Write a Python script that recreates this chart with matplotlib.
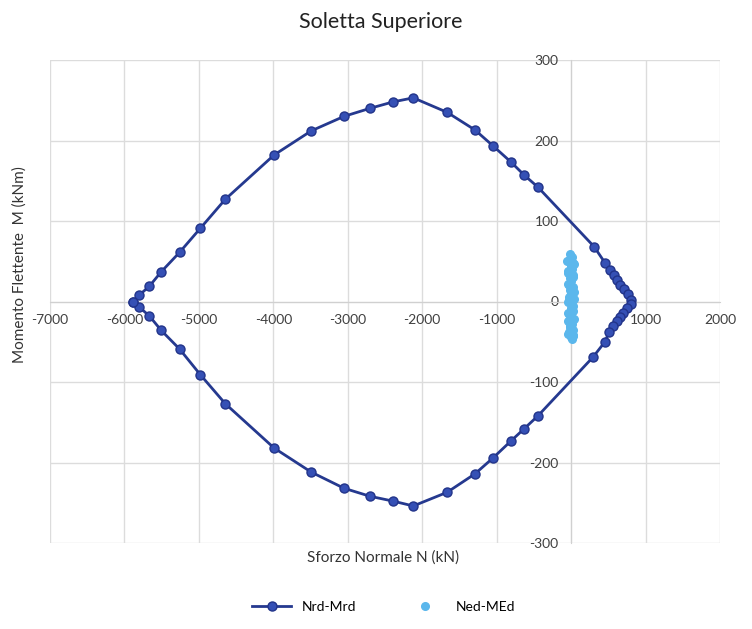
import matplotlib.pyplot as plt

plt.rcParams['font.family'] = ['Lato', 'DejaVu Sans']
plt.rcParams['axes.unicode_minus'] = False

# Nrd-Mrd domain, upper branch (left tip -> right tip)
n_up = [-5880, -5800, -5665, -5505, -5260, -4980, -4645, -3990, -3490, -3050,
        -2700, -2390, -2120, -1665, -1290, -1045, -805, -630, -445,
        310, 455, 525, 570, 615, 660, 710, 760, 810]
m_up = [0, 8, 19, 37, 61, 91, 127, 182, 212, 230,
        240, 248, 253, 235, 213, 193, 173, 157, 142,
        68, 48, 39, 33, 27, 21, 16, 9, 2]

# lower branch (right tip -> left tip)
n_low = [800, 755, 700, 655, 615, 560, 510, 455, 295,
         -445, -630, -805, -1045, -1290, -1665, -2120, -2390, -2700,
         -3050, -3490, -3990, -4645, -4980, -5260, -5505, -5665, -5800, -5880]
m_low = [-3, -8, -14, -19, -24, -31, -38, -50, -69,
         -142, -158, -173, -194, -214, -237, -254, -248, -242,
         -232, -212, -182, -127, -91, -59, -36, -18, -7, 0]

# Ned-MEd design actions
n_ed = [-20, 10, -35, 25, -5, 15, -40, 30, -15, 5, -25, 20, -10, 0, -30,
        35, -45, 12, -8, 28, -22, 8, -38, 18, -12, 3, -28, 22, -3, 14,
        -50, 40, -42, 32, -48, 38, -30, 26, -44, 36, -18, 30, -40, 24]
m_ed = [59, 55, 52, 48, 44, 40, 36, 33, 29, 25, 21, 18, 14, 10, 6,
        3, 0, -4, -8, -12, -16, -20, -24, -28, -32, -35, -38, -41, -44, -46,
        50, 46, 38, 30, 22, 12, 2, -6, -14, -22, -30, -36, -40, -43]

n_rd = n_up + n_low
m_rd = m_up + m_low

fig = plt.figure(figsize=(7.52, 6.29), dpi=100)
ax = fig.add_axes([50/752, 1-543/629, 670/752, 483/629])

ax.plot(n_rd, m_rd, color='#25398F', lw=2.0, marker='o', ms=6.5,
        mfc='#3550B5', mec='#22348A', mew=1.0, label='Nrd-Mrd', zorder=3)
ax.plot(n_ed, m_ed, ls='none', marker='o', ms=5.5, mfc='#5BB7EC', mec='#5BB7EC',
        label='Ned-MEd', zorder=4)

ax.set_xlim(-7000, 2000)
ax.set_ylim(-300, 300)
ax.set_xticks(range(-7000, 2001, 1000))
ax.set_yticks(range(-300, 301, 100))
ax.grid(True, color='#DCDCDC', lw=1.0, zorder=0)
ax.set_axisbelow(True)

for s in ['top', 'right']:
    ax.spines[s].set_visible(False)
ax.spines['left'].set_position(('data', 0))
ax.spines['bottom'].set_position(('data', 0))
ax.spines['left'].set_color('#D0D0D0')
ax.spines['bottom'].set_color('#D0D0D0')
ax.tick_params(axis='both', length=0, labelsize=10, labelcolor='#404040')
ax.tick_params(axis='x', pad=9)
ax.tick_params(axis='y', pad=9)

fig.text(0.506, 0.965, 'Soletta Superiore', ha='center', va='center',
         fontsize=15.5, color='#222222')
fig.text(0.51, 1-558/629, 'Sforzo Normale N (kN)', ha='center', va='center',
         fontsize=11, color='#333333')
fig.text(20/752, 1-265/629, 'Momento Flettente  M (kNm)', ha='center', va='center',
         rotation=90, fontsize=11, color='#333333')

fig.legend(loc='center', bbox_to_anchor=(0.51, 1-607/629), ncol=2, frameon=False,
           fontsize=10, handlelength=2.8, columnspacing=3.5)

fig.savefig('out.png', dpi=100, facecolor='white')
